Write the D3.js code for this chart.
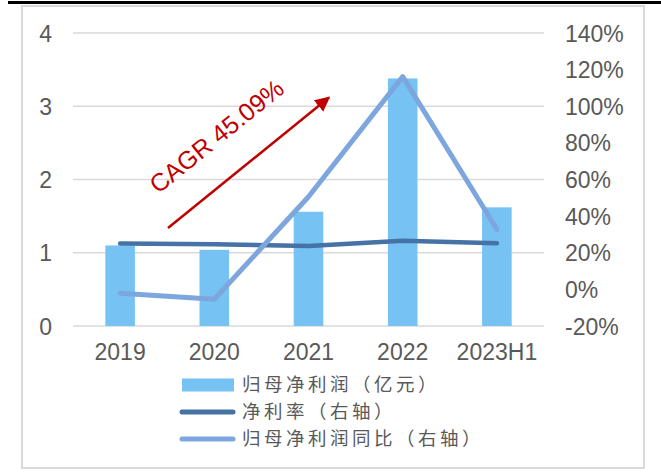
<!DOCTYPE html>
<html>
<head>
<meta charset="utf-8">
<script src="https://cdn.jsdelivr.net/npm/d3@7"></script>
<style>
  html, body { margin: 0; padding: 0; background: #fff; }
  svg { display: block; }
</style>
</head>
<body>
<svg id="chart" width="661" height="472"></svg>
<script>
// Periods and series
const categories = ["2019", "2020", "2021", "2022", "2023H1"];
const netProfit = [1.10, 1.04, 1.56, 3.38, 1.62];          // 归母净利润（亿元）
const netMargin = [25.0, 24.6, 23.7, 26.5, 25.2];          // 净利率（%，右轴）
const profitYoY = [-2.1, -5.4, 50.6, 116.2, 32.8];         // 归母净利润同比（%，右轴）
const leftTicks = [0, 1, 2, 3, 4];
const rightTicks = [-20, 0, 20, 40, 60, 80, 100, 120, 140];
const legendLabels = ["归母净利润（亿元）", "净利率（右轴）", "归母净利润同比（右轴）"];
const cagrLabel = "CAGR 45.09%";

const svg = d3.select("#chart");
const latin = "'Liberation Sans', Arial, sans-serif";
const cjk = "'Noto Sans CJK SC', sans-serif";
const textColor = "#595959";

// Frame
svg.append("line").attr("x1", 8).attr("x2", 661).attr("y1", 2.5).attr("y2", 2.5)
  .attr("stroke", "#000").attr("stroke-width", 3);
svg.append("rect").attr("x", 22).attr("y", 6).attr("width", 622).attr("height", 462)
  .attr("fill", "none").attr("stroke", "#d9d9d9").attr("stroke-width", 2);

// Scales
const x = d3.scaleBand().domain(categories).range([73, 544]).padding(0);
const yL = d3.scaleLinear().domain([0, 4]).range([326, 33]);
const yR = d3.scaleLinear().domain([-20, 140]).range([326, 33]);
const cx = d => x(d) + x.bandwidth() / 2;
const barW = x.bandwidth() * 0.314;

// Gridlines
svg.append("g").selectAll("line").data(leftTicks).join("line")
  .attr("x1", 73).attr("x2", 544)
  .attr("y1", d => yL(d)).attr("y2", d => yL(d))
  .attr("stroke", "#d9d9d9").attr("stroke-width", 1.5);

// Left axis
const leftAxis = svg.append("g").attr("transform", "translate(52,0)")
  .call(d3.axisLeft(yL).tickValues(leftTicks).tickSize(0).tickPadding(0).tickFormat(d3.format("d")));
leftAxis.select(".domain").remove();

// Right axis
const rightAxis = svg.append("g").attr("transform", "translate(565,0)")
  .call(d3.axisRight(yR).tickValues(rightTicks).tickSize(0).tickPadding(0).tickFormat(d => d + "%"));
rightAxis.select(".domain").remove();

// Bottom axis
const bottomAxis = svg.append("g").attr("transform", "translate(0,344)")
  .call(d3.axisBottom(x).tickSize(0).tickPadding(0));
bottomAxis.select(".domain").remove();

svg.selectAll(".tick text")
  .attr("fill", textColor)
  .style("font-family", latin)
  .style("font-size", "23px");
leftAxis.selectAll(".tick text").attr("dy", "0.35em");
rightAxis.selectAll(".tick text").attr("dy", "0.35em");
bottomAxis.selectAll(".tick text").attr("dy", "0.71em");

// Bars
svg.append("g").selectAll("rect").data(categories).join("rect")
  .attr("x", d => cx(d) - barW / 2)
  .attr("width", barW)
  .attr("y", (d, i) => yL(netProfit[i]))
  .attr("height", (d, i) => yL(0) - yL(netProfit[i]))
  .attr("fill", "#75c2f3");

// Lines
const lineR = d3.line().x((d, i) => cx(categories[i])).y(d => yR(d));
svg.append("path").datum(netMargin).attr("d", lineR)
  .attr("fill", "none").attr("stroke", "#4672a6").attr("stroke-width", 4.5)
  .attr("stroke-linejoin", "round").attr("stroke-linecap", "round");
svg.append("path").datum(profitYoY).attr("d", lineR)
  .attr("fill", "none").attr("stroke", "#7ea6de").attr("stroke-width", 5)
  .attr("stroke-linejoin", "round").attr("stroke-linecap", "round");

// CAGR arrow and label
const defs = svg.append("defs");
defs.append("marker").attr("id", "arrowHead")
  .attr("viewBox", "0 0 10 10").attr("refX", 9).attr("refY", 5)
  .attr("markerWidth", 6).attr("markerHeight", 6).attr("orient", "auto")
  .attr("markerUnits", "strokeWidth")
  .append("path").attr("d", "M0,0 L10,5 L0,10 Z").attr("fill", "#c00000");
svg.append("line").attr("x1", 168).attr("y1", 228).attr("x2", 329).attr("y2", 97.5)
  .attr("stroke", "#c00000").attr("stroke-width", 2.5).attr("marker-end", "url(#arrowHead)");
svg.append("text").text(cagrLabel)
  .attr("transform", "translate(222,143) rotate(-39)")
  .attr("text-anchor", "middle")
  .attr("fill", "#c00000")
  .style("font-family", latin).style("font-size", "25px");

// Legend
const legend = svg.append("g");
const ly = [385, 412, 439];
legend.append("rect").attr("x", 182).attr("y", ly[0] - 6.5).attr("width", 52).attr("height", 13).attr("fill", "#75c2f3");
legend.append("line").attr("x1", 182).attr("x2", 233).attr("y1", ly[1]).attr("y2", ly[1])
  .attr("stroke", "#4672a6").attr("stroke-width", 5).attr("stroke-linecap", "round");
legend.append("line").attr("x1", 182).attr("x2", 233).attr("y1", ly[2]).attr("y2", ly[2])
  .attr("stroke", "#7ea6de").attr("stroke-width", 5).attr("stroke-linecap", "round");
legend.selectAll("text").data(legendLabels).join("text")
  .attr("x", 242).attr("y", (d, i) => ly[i]).attr("dy", "0.35em")
  .text(d => d)
  .attr("fill", textColor)
  .style("font-family", cjk).style("font-size", "18.5px")
  .style("letter-spacing", "3.5px");
</script>
</body>
</html>
